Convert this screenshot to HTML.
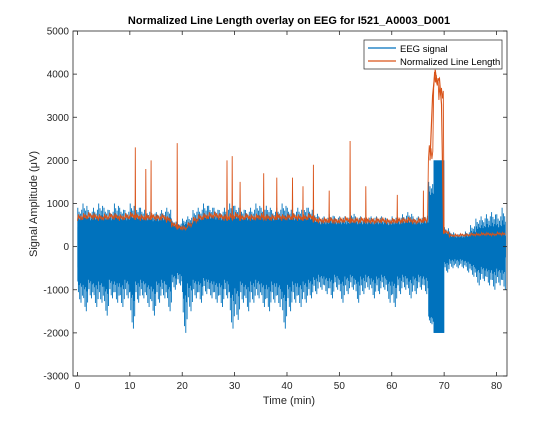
<!DOCTYPE html>
<html><head><meta charset="utf-8"><style>
body{margin:0;background:#fff;width:560px;height:420px;overflow:hidden}
svg{font-family:"Liberation Sans",sans-serif}
</style></head><body>
<svg id="c" width="560" height="420">
<rect x="0" y="0" width="560" height="420" fill="#fff"/>
<text x="289" y="24" text-anchor="middle" font-size="11" font-weight="bold" fill="#000">Normalized Line Length overlay on EEG for I521_A0003_D001</text>
<g id="plot"></g>
<g id="axes"></g>
<text x="289" y="404" text-anchor="middle" font-size="11" fill="#262626">Time (min)</text>
<text transform="translate(37,204) rotate(-90)" text-anchor="middle" font-size="11" fill="#262626">Signal Amplitude (μV)</text>
<g>
<rect x="364" y="40" width="138" height="29" fill="#fff" stroke="#262626" stroke-width="0.7"/>
<line x1="368" y1="48" x2="396" y2="48" stroke="#0072BD" stroke-width="1.2"/>
<text x="400" y="52" font-size="9.5" fill="#000">EEG signal</text>
<line x1="368" y1="61" x2="396" y2="61" stroke="#D95319" stroke-width="1.2"/>
<text x="400" y="65" font-size="9.5" fill="#000">Normalized Line Length</text>
</g>
</svg>
<script>
const minutes=[];for(let i=0;i<=81;i++)minutes.push(i);
const coreUp=[450,450,450,450,450,450,450,450,450,450,450,450,450,450,450,450,450,450,400,400,400,400,450,450,450,450,450,450,450,450,450,450,450,450,450,450,450,450,450,450,450,450,450,450,450,420,400,400,400,400,400,400,400,400,400,400,400,400,400,400,400,400,400,400,400,400,400,1000,2000,2000,200,150,150,150,150,200,250,250,250,250,250,250];
const coreLow=[-480,-480,-480,-480,-480,-480,-480,-480,-480,-480,-480,-480,-480,-480,-480,-480,-480,-480,-420,-420,-420,-420,-480,-480,-480,-480,-480,-480,-480,-480,-480,-480,-480,-480,-480,-480,-480,-480,-480,-480,-480,-480,-480,-480,-480,-450,-420,-420,-420,-420,-420,-420,-420,-420,-420,-420,-420,-420,-420,-420,-420,-420,-420,-420,-420,-420,-420,-1500,-2000,-2000,-200,-150,-150,-150,-150,-200,-250,-250,-250,-250,-250,-250];
const outUp=[900,1000,850,900,1000,900,850,1000,900,850,1000,950,900,850,800,800,850,900,600,550,650,700,850,900,1000,950,900,850,900,1000,950,900,850,900,1000,900,950,850,900,1000,900,850,900,950,900,800,700,700,750,700,700,700,800,700,700,700,700,700,700,650,700,700,750,800,700,700,750,1500,2000,2000,450,350,300,300,350,500,650,700,750,800,750,900];
const outLow=[-1300,-1500,-1200,-1400,-1300,-1600,-1200,-1300,-1400,-1200,-1900,-1300,-1200,-1400,-1600,-1300,-1200,-1500,-1000,-900,-2000,-1500,-1200,-1300,-1100,-1200,-1300,-1400,-1200,-1900,-1700,-1300,-1500,-1300,-1200,-1400,-1500,-1300,-1400,-1900,-1500,-1300,-1400,-1300,-1200,-1100,-1000,-1100,-1200,-1000,-1300,-1100,-1000,-1300,-1100,-1000,-1200,-1100,-1000,-1300,-1400,-1100,-1000,-1200,-1100,-1000,-1100,-1800,-2000,-2000,-600,-500,-500,-500,-600,-700,-900,-800,-900,-1000,-900,-1000];
const llBase=[600,620,640,620,600,610,630,620,600,620,640,620,600,610,620,600,610,560,450,400,380,450,550,600,620,640,650,620,600,620,640,600,620,600,610,620,600,600,620,600,610,620,600,600,620,560,540,540,550,530,540,560,540,540,550,540,530,540,540,520,530,540,540,550,520,540,550,2000,3700,3400,300,230,230,240,240,250,250,260,260,250,270,260];
const llSpikeT=[11,13,14,19,28.5,29.5,31,35.5,38,41,43,45,48,52,55,61,66];
const llSpikeV=[2300,1800,2000,2400,2000,2100,1500,1700,1600,1600,1400,1900,1300,2450,1400,1200,1300];
const xTicks=[0,10,20,30,40,50,60,70,80];
const yTicks=[5000,4000,3000,2000,1000,0,-1000,-2000,-3000];

const X0=73,X1=507,Y0=31,Y1=376,XMIN=-0.85,XMAX=82,YMIN=-3000,YMAX=5000;
const sx=v=>X0+(v-XMIN)/(XMAX-XMIN)*(X1-X0);
const sy=v=>Y1-(v-YMIN)/(YMAX-YMIN)*(Y1-Y0);
const NS="http://www.w3.org/2000/svg";
const plotG=document.getElementById('plot'),axesG=document.getElementById('axes');
function mk(t,a,p){const e=document.createElementNS(NS,t);for(const k in a)e.setAttribute(k,a[k]);(p||plotG).appendChild(e);return e;}
let bandTop=[],bandBot=[];
for(let i=0;i<minutes.length;i++){
  const t0=minutes[i],t1=Math.min(minutes[i]+1,81.8);
  bandTop.push(sx(t0)+','+sy(coreUp[i]));bandTop.push(sx(t1)+','+sy(coreUp[i]));
  bandBot.push(sx(t0)+','+sy(coreLow[i]));bandBot.push(sx(t1)+','+sy(coreLow[i]));
}
const core=mk('polygon',{points:bandTop.concat(bandBot.reverse()).join(' '),fill:'#0072BD'});


const fr=[1,0.55,0.8,0.4,0.7,0.5,0.9,0.45];
let d='';
for(let i=0;i<minutes.length;i++){
  for(let k=0;k<8;k++){
    const t=minutes[i]+k/8+0.06;if(t>81.8)break;
    const up=coreUp[i]+(outUp[i]-coreUp[i])*fr[k];
    const lo=coreLow[i]+(outLow[i]-coreLow[i])*fr[(k+3)%8];
    d+='M'+sx(t).toFixed(1)+' '+sy(up).toFixed(1)+'V'+sy(lo).toFixed(1);
  }
}
const ex=mk('path',{d:d,stroke:'#0072BD','stroke-width':0.9,fill:'none'});


let pts=[];const jit=[0,1,0.3,0.8,0.1,0.6];
for(let i=0;i<minutes.length;i++){
  for(let k=0;k<6;k++){const t=minutes[i]+k/6;if(t>81.8)break;
    const b=llBase[i];pts.push([t,b+(b>1000?350:b*0.25)*jit[k]]);}
  for(let s=0;s<llSpikeT.length;s++){if(Math.floor(llSpikeT[s])===minutes[i]){pts.push([llSpikeT[s],llBase[i]]);pts.push([llSpikeT[s]+0.05,llSpikeV[s]]);pts.push([llSpikeT[s]+0.1,llBase[i]]);}}
}
pts.sort((a,b)=>a[0]-b[0]);
const ll=mk('polyline',{points:pts.map(p=>sx(p[0]).toFixed(1)+','+sy(p[1]).toFixed(1)).join(' '),stroke:'#D95319','stroke-width':0.9,fill:'none'});


const pk=mk('polyline',{points:[[67.3,2000],[67.8,3500],[68.3,4100],[68.6,3800],[69.1,3900],[69.5,3300],[69.9,300]].map(p=>sx(p[0])+','+sy(p[1])).join(' '),stroke:'#D95319','stroke-width':1.2,fill:'none'});


const bx=mk('rect',{x:X0,y:Y0,width:X1-X0,height:Y1-Y0,fill:'none',stroke:'#262626','stroke-width':0.8},axesG);


xTicks.forEach(v=>{const x=sx(v);
  mk('line',{x1:x,y1:Y1,x2:x,y2:Y1-4,stroke:'#262626','stroke-width':0.8},axesG);
  mk('line',{x1:x,y1:Y0,x2:x,y2:Y0+4,stroke:'#262626','stroke-width':0.8},axesG);
  const t=mk('text',{x:x,y:Y1+13,'text-anchor':'middle','font-size':10,fill:'#262626'},axesG);t.textContent=v;
  
  
});
yTicks.forEach(v=>{const y=sy(v);
  mk('line',{x1:X0,y1:y,x2:X0+4,y2:y,stroke:'#262626','stroke-width':0.8},axesG);
  mk('line',{x1:X1,y1:y,x2:X1-4,y2:y,stroke:'#262626','stroke-width':0.8},axesG);
  const t=mk('text',{x:X0-4,y:y+3.5,'text-anchor':'end','font-size':10,fill:'#262626'},axesG);t.textContent=v;
  
  
});
</script>
</body></html>
